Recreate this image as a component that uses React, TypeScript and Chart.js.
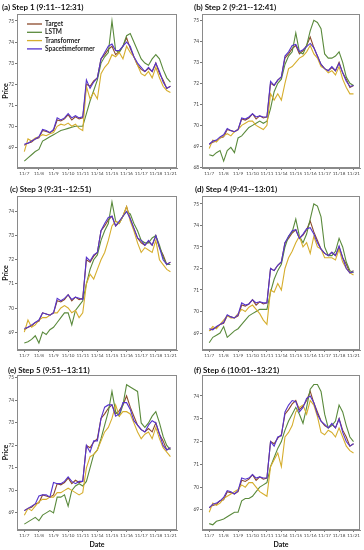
import React, { useEffect, useRef } from 'react';
import { Chart, registerables } from 'chart.js';

Chart.register(...registerables);

// ---------------- DATA ----------------
const dates = ['11/7', '11/8', '11/9', '11/10', '11/11', '11/14', '11/15', '11/16', '11/17', '11/18', '11/21'];
const POINTS_PER_DAY = 4;

const target = [
  69.10, 69.20, 69.25, 69.40, 69.45, 69.80, 69.75, 69.70, 69.80, 70.30, 70.25, 70.35,
  70.55, 70.30, 70.45, 70.35, 70.40, 72.00, 71.90, 72.15, 72.30, 73.20, 73.40, 73.65,
  73.80, 73.40, 73.55, 73.80, 74.20, 73.70, 73.30, 72.90, 72.70, 72.60, 72.75, 72.60,
  73.00, 72.50, 72.20, 71.80, 71.90,
];

const lstmA = [
  68.35, 68.50, 68.65, 68.80, 68.90, 69.30, 69.40, 69.50, 69.60, 69.70, 69.80, 69.85,
  69.90, 69.95, 70.00, 70.00, 70.00, 70.60, 71.20, 71.70, 72.20, 73.00, 73.30, 73.50,
  75.00, 73.60, 73.50, 73.80, 74.30, 74.40, 74.00, 73.60, 73.20, 73.00, 72.90, 73.20,
  73.40, 73.20, 72.70, 72.30, 72.10,
];
const lstmB = [
  68.60, 68.55, 68.70, 68.80, 68.30, 68.80, 68.95, 68.70, 69.40, 69.50, 69.70, 69.90,
  70.00, 70.10, 70.20, 70.10, 70.20, 70.80, 71.60, 72.00, 72.20, 72.90, 73.30, 73.50,
  74.40, 73.50, 73.40, 73.80, 74.50, 75.00, 74.90, 74.60, 73.40, 73.20, 73.20, 73.30,
  73.50, 73.00, 72.30, 72.00, 71.90,
];
const lstmC = [
  68.55, 68.60, 68.70, 68.85, 68.55, 69.00, 68.90, 69.10, 69.20, 69.40, 69.60, 69.80,
  69.80, 69.30, 69.90, 70.10, 70.30, 71.00, 71.60, 72.00, 72.20, 72.80, 73.20, 73.50,
  74.40, 73.60, 73.50, 73.80, 74.00, 73.90, 73.50, 73.20, 72.80, 72.70, 72.70, 72.90,
  73.00, 72.60, 72.10, 71.80, 71.80,
];
const lstmD = [
  68.55, 68.80, 68.90, 69.00, 69.30, 68.80, 68.95, 69.10, 69.20, 69.40, 69.60, 69.80,
  69.90, 70.00, 70.10, 70.10, 70.10, 70.90, 71.50, 71.90, 72.20, 73.00, 73.50, 73.70,
  74.30, 73.50, 73.20, 73.60, 74.30, 75.00, 74.90, 74.40, 73.00, 72.60, 72.60, 72.80,
  73.40, 73.00, 72.30, 71.90, 71.80,
];
const lstmE = [
  68.50, 68.60, 68.70, 68.80, 68.65, 68.90, 69.00, 69.10, 69.00, 69.70, 69.70, 69.80,
  69.30, 70.00, 70.20, 70.30, 70.20, 70.40, 71.00, 71.60, 71.80, 72.30, 72.90, 73.50,
  74.40, 73.50, 73.30, 73.80, 74.70, 74.60, 74.50, 74.40, 73.00, 72.80, 73.00, 73.30,
  73.50, 73.00, 72.40, 72.00, 71.80,
];
const lstmF = [
  68.40, 68.35, 68.50, 68.55, 68.60, 68.70, 68.80, 68.90, 68.90, 69.40, 69.50, 69.50,
  69.60, 69.80, 70.00, 70.10, 70.20, 70.90, 71.30, 71.70, 72.00, 72.50, 72.90, 73.20,
  73.50, 73.20, 72.80, 73.50, 74.30, 74.50, 74.50, 74.20, 73.20, 72.60, 72.70, 72.90,
  73.60, 73.30, 72.70, 72.20, 72.00,
];

const transA = [
  68.80, 69.40, 69.30, 69.45, 69.50, 69.60, 69.55, 69.65, 69.70, 70.00, 70.10, 70.05,
  70.15, 70.00, 70.10, 69.90, 69.80, 71.90, 71.30, 71.60, 71.30, 72.50, 72.80, 73.00,
  73.40, 73.30, 73.50, 73.20, 73.80, 73.50, 73.30, 72.90, 72.50, 72.40, 72.60, 72.30,
  72.80, 72.30, 71.90, 71.70, 71.60,
];
const transB = [
  68.90, 69.30, 69.20, 69.40, 69.50, 69.60, 69.50, 69.70, 69.80, 70.00, 70.10, 70.20,
  70.20, 70.00, 69.90, 69.80, 70.00, 71.50, 71.20, 71.50, 71.20, 72.00, 72.70, 72.80,
  73.00, 73.20, 73.30, 73.50, 73.80, 73.40, 73.20, 72.80, 72.70, 72.50, 72.60, 72.40,
  72.80, 72.20, 71.80, 71.50, 71.50,
];
const transC = [
  69.00, 69.50, 69.20, 69.30, 69.50, 69.60, 69.60, 69.70, 69.80, 69.80, 70.00, 70.10,
  70.00, 69.80, 69.90, 69.60, 69.80, 71.00, 71.40, 71.20, 71.60, 72.00, 72.30, 72.80,
  73.40, 73.60, 73.50, 73.80, 74.20, 73.60, 73.20, 72.70, 72.30, 72.50, 72.40, 72.30,
  72.80, 72.00, 71.80, 71.60, 71.50,
];
const transD = [
  69.10, 69.30, 69.20, 69.40, 69.60, 69.80, 69.70, 69.70, 69.90, 70.10, 70.00, 70.20,
  70.30, 70.10, 69.90, 69.60, 69.40, 71.00, 70.90, 71.30, 71.00, 72.00, 72.50, 72.80,
  73.20, 73.50, 73.00, 73.20, 72.70, 73.50, 73.00, 72.90, 72.50, 72.50, 72.50, 72.40,
  72.90, 72.30, 72.00, 71.80, 71.70,
];
const transE = [
  68.90, 69.20, 69.10, 69.30, 69.50, 69.60, 69.60, 69.70, 69.70, 69.90, 69.90, 70.00,
  70.10, 70.00, 69.90, 69.80, 69.90, 71.00, 71.50, 71.60, 71.80, 72.20, 72.60, 72.80,
  73.20, 73.80, 73.30, 73.50, 73.50, 73.40, 73.00, 72.60, 72.30, 72.50, 72.60, 72.30,
  72.80, 72.30, 71.90, 71.70, 71.50,
];
const transF = [
  68.90, 69.30, 69.20, 69.30, 69.50, 69.60, 69.70, 69.80, 69.90, 70.10, 70.00, 70.20,
  70.20, 70.00, 69.80, 69.70, 69.60, 70.90, 71.20, 71.50, 70.90, 72.20, 72.40, 72.70,
  73.30, 73.50, 73.60, 73.20, 73.80, 73.60, 73.10, 72.40, 72.30, 72.50, 72.40, 72.20,
  72.60, 72.20, 71.80, 71.60, 71.50,
];

const stfA = [
  69.15, 69.20, 69.30, 69.40, 69.50, 69.85, 69.80, 69.70, 69.85, 70.40, 70.30, 70.40,
  70.60, 70.40, 70.50, 70.40, 70.45, 72.20, 71.80, 72.10, 72.30, 73.20, 73.50, 73.80,
  73.90, 73.60, 73.60, 73.80, 74.00, 73.80, 73.30, 73.00, 72.80, 72.60, 72.80, 72.60,
  73.00, 72.60, 72.10, 71.80, 71.90,
];
const stfB = [
  69.10, 69.25, 69.30, 69.45, 69.55, 69.85, 69.75, 69.70, 69.80, 70.35, 70.30, 70.40,
  70.55, 70.40, 70.45, 70.40, 70.40, 72.10, 71.90, 72.15, 72.30, 73.30, 73.50, 73.80,
  73.85, 73.50, 73.60, 73.75, 73.90, 73.70, 73.30, 72.90, 72.70, 72.60, 72.80, 72.60,
  72.95, 72.50, 72.10, 71.85, 71.90,
];
const stfC = [
  69.15, 69.20, 69.30, 69.40, 69.50, 69.80, 69.75, 69.70, 69.80, 70.40, 70.30, 70.40,
  70.55, 70.35, 70.45, 70.40, 70.35, 72.10, 71.95, 72.20, 72.30, 73.20, 73.50, 73.75,
  73.80, 73.40, 73.60, 73.80, 74.00, 73.70, 73.30, 72.90, 72.80, 72.60, 72.80, 72.60,
  73.00, 72.50, 72.00, 71.80, 71.90,
];
const stfD = [
  69.20, 69.15, 69.30, 69.40, 69.50, 69.85, 69.75, 69.70, 69.85, 70.40, 70.30, 70.35,
  70.55, 70.40, 70.45, 70.40, 70.40, 72.00, 71.90, 72.15, 72.30, 73.20, 73.50, 73.75,
  73.80, 73.40, 73.60, 73.85, 73.90, 73.60, 73.20, 72.90, 72.70, 72.60, 72.75, 72.60,
  73.05, 72.50, 72.00, 71.80, 71.85,
];
const stfE = [
  69.10, 69.20, 69.30, 69.40, 69.75, 69.80, 69.80, 69.70, 70.35, 70.30, 70.30, 70.40,
  70.60, 70.40, 70.30, 70.40, 70.40, 72.00, 71.70, 72.20, 72.20, 73.20, 73.70, 73.80,
  73.80, 73.30, 73.40, 73.90, 73.90, 73.60, 73.10, 72.90, 72.70, 72.60, 72.90, 73.10,
  73.00, 72.50, 72.00, 71.80, 71.90,
];
const stfF = [
  69.10, 69.25, 69.30, 69.40, 69.55, 69.85, 69.80, 69.70, 69.85, 70.40, 70.35, 70.40,
  70.55, 70.40, 70.45, 70.40, 70.40, 72.00, 71.80, 72.20, 72.25, 73.30, 73.60, 73.80,
  73.75, 73.30, 73.50, 73.90, 74.00, 73.70, 73.20, 72.90, 72.75, 72.60, 72.80, 72.60,
  73.00, 72.40, 72.00, 71.80, 71.90,
];

const titles = [
  '(a) Step 1 (9:11--12:31)',
  '(b) Step 2 (9:21--12:41)',
  '(c) Step 3 (9:31--12:51)',
  '(d) Step 4 (9:41--13:01)',
  '(e) Step 5 (9:51--13:11)',
  '(f) Step 6 (10:01--13:21)',
];
const seriesNames = ['Target', 'LSTM', 'Transformer', 'Spacetimeformer'];
const yTicksA = [69, 70, 71, 72, 73, 74, 75];
const yTicksB = [68, 69, 70, 71, 72, 73, 74, 75];
const yTicksC = [69, 70, 71, 72, 73, 74];

// ---------------- STYLE / LAYOUT ----------------
const COLORS = ['#8B4A2B', '#5A8A3C', '#D6AE2E', '#5533CC'];
const DRAW_ORDER = [3, 2, 1, 0];
const FONT = 'Lato, "Open Sans", sans-serif';

const cols = [
  { cellLeft: 0, cellW: 182, boxLeft: 17, boxRight: 177 },
  { cellLeft: 182, cellW: 182, boxLeft: 202, boxRight: 360 },
];
const rows = [
  { cellTop: 0, cellH: 178, boxTop: 14, boxBottom: 168 },
  { cellTop: 178, cellH: 182, boxTop: 196, boxBottom: 350 },
  { cellTop: 360, cellH: 190, boxTop: 375, boxBottom: 530 },
];

type PanelDef = {
  title: string; lstm: number[]; trans: number[]; stf: number[];
  yMin: number; yMax: number; yTicks: number[];
  col: number; row: number; tx: number; ty: number; legend?: boolean;
};

const panels: PanelDef[] = [
  { title: titles[0], lstm: lstmA, trans: transA, stf: stfA, yMin: 68.02, yMax: 75.33, yTicks: yTicksA, col: 0, row: 0, tx: 2, ty: 7, legend: true },
  { title: titles[1], lstm: lstmB, trans: transB, stf: stfB, yMin: 67.97, yMax: 75.3, yTicks: yTicksB, col: 1, row: 0, tx: 12, ty: 7 },
  { title: titles[2], lstm: lstmC, trans: transC, stf: stfC, yMin: 68.26, yMax: 74.64, yTicks: yTicksC, col: 0, row: 1, tx: 10, ty: 11 },
  { title: titles[3], lstm: lstmD, trans: transD, stf: stfD, yMin: 68.21, yMax: 75.37, yTicks: yTicksA, col: 1, row: 1, tx: 13, ty: 11 },
  { title: titles[4], lstm: lstmE, trans: transE, stf: stfE, yMin: 68.24, yMax: 75.13, yTicks: yTicksA, col: 0, row: 2, tx: 8, ty: 10 },
  { title: titles[5], lstm: lstmF, trans: transF, stf: stfF, yMin: 68.12, yMax: 74.92, yTicks: yTicksC, col: 1, row: 2, tx: 12, ty: 10 },
];

const panelPlugin = {
  id: 'panelDecor',
  afterDraw(chart: any, _args: any, opts: any) {
    const ctx = chart.ctx;
    const a = chart.chartArea;
    ctx.save();
    // frame
    ctx.strokeStyle = '#8a8a8a';
    ctx.lineWidth = 1;
    ctx.strokeRect(Math.round(a.left) + 0.5, Math.round(a.top) + 0.5, Math.round(a.right - a.left) - 1, Math.round(a.bottom - a.top) - 1);
    // title
    ctx.fillStyle = '#111';
    ctx.font = `bold 8px ${FONT}`;
    ctx.textBaseline = 'middle';
    ctx.textAlign = 'left';
    ctx.fillText(opts.text, opts.x, opts.y);
    // legend
    if (opts.legend) {
      const ds = chart.data.datasets;
      ctx.font = `bold 6.5px ${FONT}`;
      for (let i = 0; i < ds.length; i++) {
        const y = a.top + 10 + i * 8.3;
        const x0 = a.left + 10;
        ctx.strokeStyle = ds[i].borderColor;
        ctx.lineWidth = 1.3;
        ctx.beginPath();
        ctx.moveTo(x0, y);
        ctx.lineTo(x0 + 15, y);
        ctx.stroke();
        ctx.fillStyle = '#222';
        ctx.fillText(ds[i].label, x0 + 18, y);
      }
    }
    ctx.restore();
  },
};

function Panel({ p }: { p: PanelDef }) {
  const ref = useRef<HTMLCanvasElement | null>(null);
  const c = cols[p.col];
  const r = rows[p.row];

  useEffect(() => {
    if (!ref.current) return;
    const series = [target, p.lstm, p.trans, p.stf];
    const chart = new Chart(ref.current, {
      type: 'line',
      data: {
        datasets: series.map((s, k) => ({
          label: seriesNames[k],
          data: s.map((v, i) => ({ x: i / POINTS_PER_DAY, y: v })),
          borderColor: COLORS[k],
          backgroundColor: COLORS[k],
          borderWidth: 1.1,
          pointRadius: 0,
          tension: 0,
          order: DRAW_ORDER[k],
        })),
      },
      options: {
        responsive: false,
        animation: false,
        devicePixelRatio: 1,
        layout: {
          padding: { left: 0, top: r.boxTop - r.cellTop, right: c.cellLeft + c.cellW - c.boxRight, bottom: 0 },
        },
        plugins: {
          legend: { display: false },
          tooltip: { enabled: false },
          title: { display: false },
          panelDecor: { text: p.title, x: p.tx, y: p.ty, legend: !!p.legend },
        } as any,
        scales: {
          x: {
            type: 'linear',
            min: -0.5,
            max: 10.45,
            afterBuildTicks: (s: any) => { s.ticks = dates.map((_, i) => ({ value: i })); },
            afterFit: (s: any) => { s.height = r.cellTop + r.cellH - r.boxBottom; },
            ticks: {
              autoSkip: false, maxRotation: 0, minRotation: 0, padding: 1,
              color: '#444', font: { family: FONT, size: 4.6 },
              callback: (v: any) => dates[Math.round(Number(v))],
            },
            grid: { display: true, drawOnChartArea: false, drawTicks: true, tickLength: 2, color: '#777' },
            border: { display: true, color: '#8a8a8a' },
            title: {
              display: p.row === 2, text: 'Date', color: '#111',
              font: { family: FONT, size: 7, weight: 'bold' }, padding: { top: 0, bottom: 1 },
            },
          },
          y: {
            type: 'linear',
            min: p.yMin,
            max: p.yMax,
            afterBuildTicks: (s: any) => { s.ticks = p.yTicks.map((v) => ({ value: v })); },
            afterFit: (s: any) => { s.width = c.boxLeft - c.cellLeft; },
            ticks: { padding: 1, color: '#444', font: { family: FONT, size: 4.8 } },
            grid: { display: true, drawOnChartArea: false, drawTicks: true, tickLength: 2, color: '#777' },
            border: { display: true, color: '#8a8a8a' },
            title: {
              display: p.col === 0, text: 'Price', color: '#111',
              font: { family: FONT, size: 7, weight: 'bold' }, padding: { top: 2, bottom: 0 },
            },
          },
        },
      } as any,
      plugins: [panelPlugin as any],
    });
    return () => chart.destroy();
  }, []);

  return (
    <div style={{ position: 'absolute', left: c.cellLeft, top: r.cellTop, width: c.cellW, height: r.cellH }}>
      <canvas ref={ref} width={c.cellW} height={r.cellH} style={{ display: 'block' }} />
    </div>
  );
}

export default function App() {
  return (
    <div style={{ position: 'fixed', left: 0, top: 0, width: 364, height: 550, background: '#fff', overflow: 'hidden' }}>
      {panels.map((p, i) => <Panel key={i} p={p} />)}
    </div>
  );
}
